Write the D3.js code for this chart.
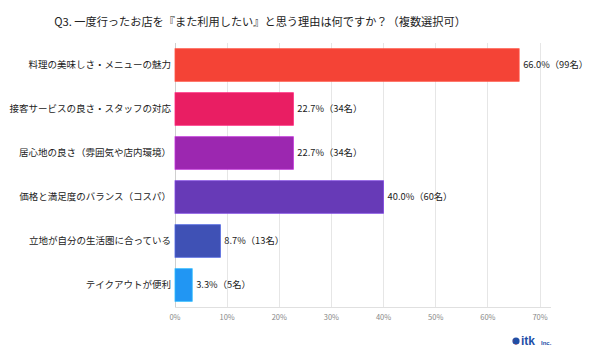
<!DOCTYPE html>
<html><head><meta charset="utf-8">
<script src="https://cdn.jsdelivr.net/npm/d3@7"></script>
<style>
html,body{margin:0;padding:0;background:#fff;}
svg{display:block;font-family:"Noto Sans CJK JP","Noto Sans",sans-serif;}
</style></head>
<body><svg id="c" width="600" height="359"></svg>
<script>
const title = "Q3. 一度行ったお店を『また利用したい』と思う理由は何ですか？（複数選択可）";
const categories = ["料理の美味しさ・メニューの魅力","接客サービスの良さ・スタッフの対応","居心地の良さ（雰囲気や店内環境）","価格と満足度のバランス（コスパ）","立地が自分の生活圏に合っている","テイクアウトが便利"];
const percents = [66.0, 22.7, 22.7, 40.0, 8.7, 3.3];
const counts = [99, 34, 34, 60, 13, 5];
const colors = ["#F44336","#E91E63","#9C27B0","#673AB7","#3F51B5","#2196F3"];
const ticks = [0,10,20,30,40,50,60,70];

const svg = d3.select("#c");
const x = d3.scaleLinear().domain([0,70]).range([175,540]);
const y = d3.scaleBand().domain(categories).range([43,307]).paddingInner(0.26).paddingOuter(0.13);

svg.append("text").attr("x",260).attr("y",26).attr("text-anchor","middle")
  .attr("font-size",11.2).attr("fill","#222").text(title);

// grid
svg.append("g").selectAll("line").data(ticks.slice(1)).join("line")
  .attr("x1",d=>x(d)).attr("x2",d=>x(d)).attr("y1",43).attr("y2",307)
  .attr("stroke","#e6e6e6").attr("stroke-width",1).attr("shape-rendering","crispEdges");
// baseline
svg.append("line").attr("x1",x(0)).attr("x2",551).attr("y1",307).attr("y2",307)
  .attr("stroke","#e0e0e0").attr("shape-rendering","crispEdges");
svg.append("line").attr("x1",x(0)).attr("x2",x(0)).attr("y1",43).attr("y2",307)
  .attr("stroke","#cfcfcf").attr("shape-rendering","crispEdges");

// tick labels
svg.append("g").selectAll("text").data(ticks).join("text")
  .attr("x",d=>x(d)).attr("y",320).attr("text-anchor","middle")
  .attr("font-size",7.5).attr("fill","#888").text(d=>d+"%");

// bars
svg.append("g").selectAll("rect").data(categories).join("rect")
  .attr("x",x(0)).attr("y",d=>y(d)).attr("height",y.bandwidth())
  .attr("width",(d,i)=>x(percents[i])-x(0))
  .attr("fill",(d,i)=>colors[i])
  .attr("stroke",(d,i)=>d3.color(colors[i]).brighter(0.6)).attr("stroke-width",0.8);

// category labels
svg.append("g").selectAll("text").data(categories).join("text")
  .attr("x",171).attr("y",d=>y(d)+y.bandwidth()/2).attr("dy","0.35em")
  .attr("text-anchor","end").attr("font-size",9.5).attr("fill","#222").text(d=>d);

// value labels
svg.append("g").selectAll("text").data(categories).join("text")
  .attr("x",(d,i)=>x(percents[i])+4).attr("y",d=>y(d)+y.bandwidth()/2).attr("dy","0.35em")
  .attr("font-size",9.3).attr("fill","#222")
  .text((d,i)=>percents[i].toFixed(1)+"%（"+counts[i]+"名）");

// logo
const lg = svg.append("g");
lg.append("circle").attr("cx",516).attr("cy",341).attr("r",3.6).attr("fill","#1e4fa8");
lg.append("path").attr("d","M515,338 a3.6,3.6 0 0,0 2,6.5 a2.5,3.6 0 0,1 -2,-6.5z").attr("fill","#d9302a");
lg.append("text").attr("x",521).attr("y",345).attr("font-size",12).attr("font-weight","bold")
  .attr("font-family","Arial, 'Liberation Sans', sans-serif").attr("fill","#1e4fa8").text("itk");
lg.append("text").attr("x",541).attr("y",345).attr("font-size",6).attr("font-weight","bold")
  .attr("font-family","Arial, 'Liberation Sans', sans-serif").attr("fill","#1e4fa8").text("Inc.");
</script></body></html>
